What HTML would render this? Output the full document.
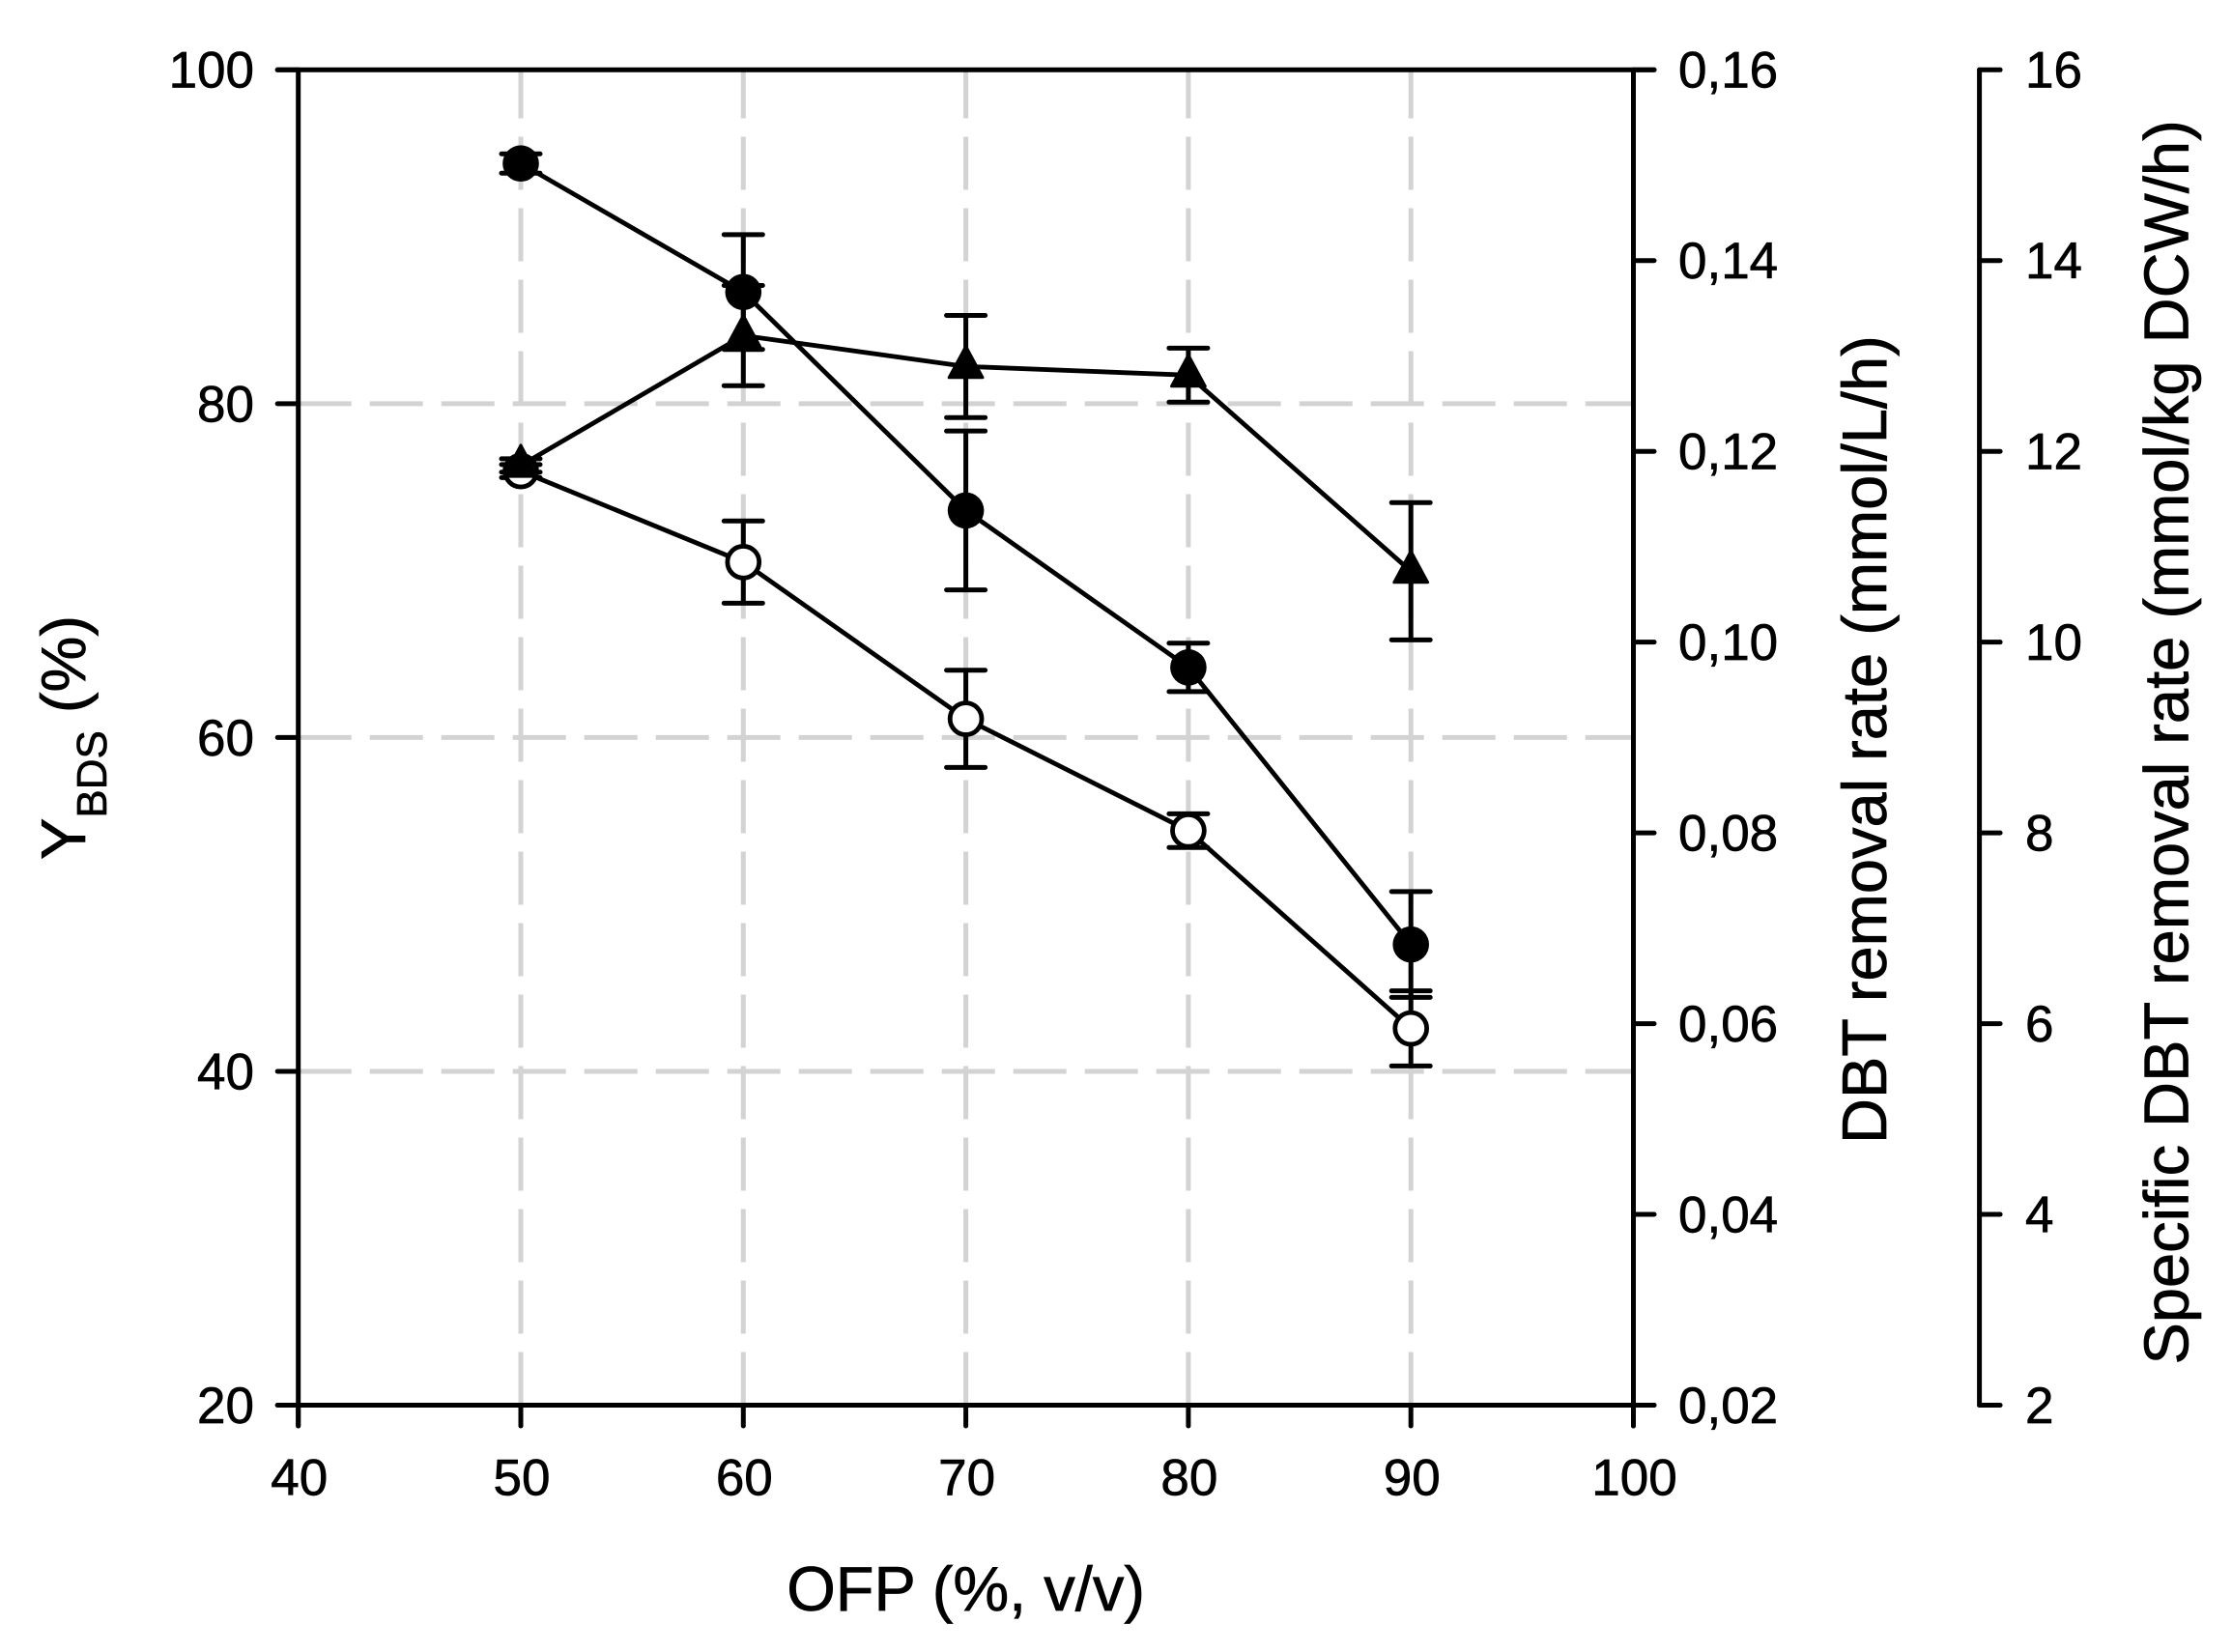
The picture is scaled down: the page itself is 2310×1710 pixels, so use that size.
<!DOCTYPE html>
<html lang="en">
<head>
<meta charset="utf-8">
<title>OFP effect on YBDS and DBT removal rates</title>
<style>
html,body{margin:0;padding:0;background:#fff;}
svg{display:block;}
text{font-family:"Liberation Sans",Arial,sans-serif;fill:#000;stroke:#000;stroke-width:0.7px;}
</style>
</head>
<body>
<svg id="chart" xmlns="http://www.w3.org/2000/svg" width="2310" height="1710" viewBox="0 0 2310 1710">
  <rect x="0" y="0" width="2310" height="1710" fill="#ffffff"/>
  <g id="grid"></g>
  <g id="axes"></g>
  <g id="marks"></g>
  <g id="labels"></g>
  <text x="999.6" y="1667" font-size="65" text-anchor="middle">OFP (%, v/v)</text>
  <text transform="translate(88 890) rotate(-90)" font-size="65">Y<tspan font-size="44" dy="22">BDS</tspan><tspan dy="-22"> (%)</tspan></text>
  <text transform="translate(1952 1184) rotate(-90)" font-size="65">DBT removal rate (mmol/L/h)</text>
  <text transform="translate(2264.5 1412.5) rotate(-90)" font-size="65">Specific DBT removal rate (mmol/kg DCW/h)</text>
</svg>
<script>
// Chart data (all values in left-axis units)
const ofpValues = [50, 60, 70, 80, 90];
const filledCircleValues = [94.39, 86.69, 73.6, 64.2, 47.6];
const filledCircleErrors = [0.58, 3.44, 4.76, 1.45, 3.17];
const triangleValues = [76.3, 84.08, 82.23, 81.71, 69.96];
const triangleErrors = [0.4, 3.0, 3.06, 1.62, 4.11];
const openCircleValues = [75.96, 70.51, 61.12, 54.42, 42.57];
const openCircleErrors = [0.39, 2.46, 2.91, 1.01, 2.25];

const xTicks = [40, 50, 60, 70, 80, 90, 100];
const xGridValues = [50, 60, 70, 80, 90];
const yTicks = [20, 40, 60, 80, 100];
const yGridValues = [40, 60, 80];
const rightTicks = [0.02, 0.04, 0.06, 0.08, 0.10, 0.12, 0.14, 0.16];
const farRightTicks = [2, 4, 6, 8, 10, 12, 14, 16];

// Axis geometry
const plotLeft = 308.7, plotRight = 1690.5, plotTop = 72.3, plotBottom = 1454.5;
const farAxisX = 2048.6;
const NS = 'http://www.w3.org/2000/svg';

function xScale(v) { return plotLeft + (v - 40) / 60 * (plotRight - plotLeft); }
function yScale(v) { return plotBottom - (v - 20) / 80 * (plotBottom - plotTop); }
function rightScale(v) { return plotBottom - (v - 0.02) / 0.14 * (plotBottom - plotTop); }
function farRightScale(v) { return plotBottom - (v - 2) / 14 * (plotBottom - plotTop); }

function make(tag, attrs, parent) {
  const e = document.createElementNS(NS, tag);
  for (const k in attrs) e.setAttribute(k, attrs[k]);
  parent.appendChild(e);
  return e;
}

const gridG = document.getElementById('grid');
const axesG = document.getElementById('axes');
const marksG = document.getElementById('marks');
const labelsG = document.getElementById('labels');

// Grid
const gridStyle = { stroke: '#d3d3d3', 'stroke-width': 5, 'stroke-dasharray': '55 19', fill: 'none' };
xGridValues.forEach(function (v) {
  const el = make('line', Object.assign({ x1: xScale(v), x2: xScale(v), y1: plotBottom, y2: plotTop }, gridStyle), gridG);
  
  
});
yGridValues.forEach(function (v) {
  const el = make('line', Object.assign({ x1: plotLeft, x2: plotRight, y1: yScale(v), y2: yScale(v) }, gridStyle), gridG);
  
  
});

// Axes
const axisStyle = { stroke: '#000', 'stroke-width': 5, 'stroke-linecap': 'round', fill: 'none' };
const tickOut = 21.5, xTickDown = 21.5;

const leftAxis = make('line', Object.assign({ x1: plotLeft, x2: plotLeft, y1: plotTop, y2: plotBottom + xTickDown }, axisStyle), axesG);



const rightAxis = make('line', Object.assign({ x1: plotRight, x2: plotRight, y1: plotTop, y2: plotBottom + xTickDown }, axisStyle), axesG);



const farAxis = make('line', Object.assign({ x1: farAxisX, x2: farAxisX, y1: plotTop, y2: plotBottom }, axisStyle), axesG);



const topAxis = make('line', Object.assign({ x1: plotLeft - tickOut, x2: plotRight + tickOut, y1: plotTop, y2: plotTop }, axisStyle), axesG);



const bottomAxis = make('line', Object.assign({ x1: plotLeft - tickOut, x2: plotRight + tickOut, y1: plotBottom, y2: plotBottom }, axisStyle), axesG);



xTicks.forEach(function (v) {
  const t = make('line', Object.assign({ x1: xScale(v), x2: xScale(v), y1: plotBottom, y2: plotBottom + xTickDown }, axisStyle), axesG);
  
  
  const l = make('text', { x: xScale(v) + 1, y: 1547.5, 'font-size': 53, 'text-anchor': 'middle' }, labelsG);
  l.textContent = String(v);
  
  
});

yTicks.forEach(function (v) {
  const t = make('line', Object.assign({ x1: plotLeft - tickOut, x2: plotLeft, y1: yScale(v), y2: yScale(v) }, axisStyle), axesG);
  
  
  const l = make('text', { x: 263, y: yScale(v) + 18.4, 'font-size': 53, 'text-anchor': 'end' }, labelsG);
  l.textContent = String(v);
  
  
});

rightTicks.forEach(function (v) {
  const t = make('line', Object.assign({ x1: plotRight, x2: plotRight + tickOut, y1: rightScale(v), y2: rightScale(v) }, axisStyle), axesG);
  
  
  const l = make('text', { x: 1737, y: rightScale(v) + 18.4, 'font-size': 53 }, labelsG);
  l.textContent = v.toFixed(2).replace('.', ',');
  
  
});

farRightTicks.forEach(function (v) {
  const t = make('line', Object.assign({ x1: farAxisX, x2: farAxisX + tickOut, y1: farRightScale(v), y2: farRightScale(v) }, axisStyle), axesG);
  
  
  const l = make('text', { x: 2096, y: farRightScale(v) + 18.4, 'font-size': 53 }, labelsG);
  l.textContent = String(v);
  
  
});

// Series
function drawSeries(seriesName, values, errors, drawMarker) {
  const g = make('g', {}, marksG);
  
  

  const pts = values.map(function (v, i) { return xScale(ofpValues[i]) + ',' + yScale(v); }).join(' ');
  const line = make('polyline', { points: pts, fill: 'none', stroke: '#000', 'stroke-width': 4.8, 'stroke-linejoin': 'round' }, g);
  
  

  values.forEach(function (v, i) {
    const x = xScale(ofpValues[i]);
    const hi = yScale(v + errors[i]);
    const lo = yScale(v - errors[i]);
    const d = 'M' + x + ' ' + hi + 'V' + lo + 'M' + (x - 20) + ' ' + hi + 'H' + (x + 20) + 'M' + (x - 20) + ' ' + lo + 'H' + (x + 20);
    const bar = make('path', { d: d, fill: 'none', stroke: '#000', 'stroke-width': 5, 'stroke-linecap': 'round' }, g);
    
    
  });

  values.forEach(function (v, i) {
    const m = drawMarker(xScale(ofpValues[i]), yScale(v), g);
    
    
  });
}

function openCircle(x, y, g) {
  return make('circle', { cx: x, cy: y, r: 16.4, fill: '#fff', stroke: '#000', 'stroke-width': 4.8 }, g);
}
function filledCircle(x, y, g) {
  return make('circle', { cx: x, cy: y, r: 18.8, fill: '#000' }, g);
}
function triangle(x, y, g) {
  const d = 'M' + x + ' ' + (y - 21) + 'L' + (x + 17.5) + ' ' + (y + 11.5) + 'L' + (x - 17.5) + ' ' + (y + 11.5) + 'Z';
  return make('path', { d: d, fill: '#000', stroke: '#000', 'stroke-width': 2.8, 'stroke-linejoin': 'round' }, g);
}

drawSeries('open-circle', openCircleValues, openCircleErrors, openCircle);
drawSeries('triangle', triangleValues, triangleErrors, triangle);
drawSeries('filled-circle', filledCircleValues, filledCircleErrors, filledCircle);
</script>
</body>
</html>
